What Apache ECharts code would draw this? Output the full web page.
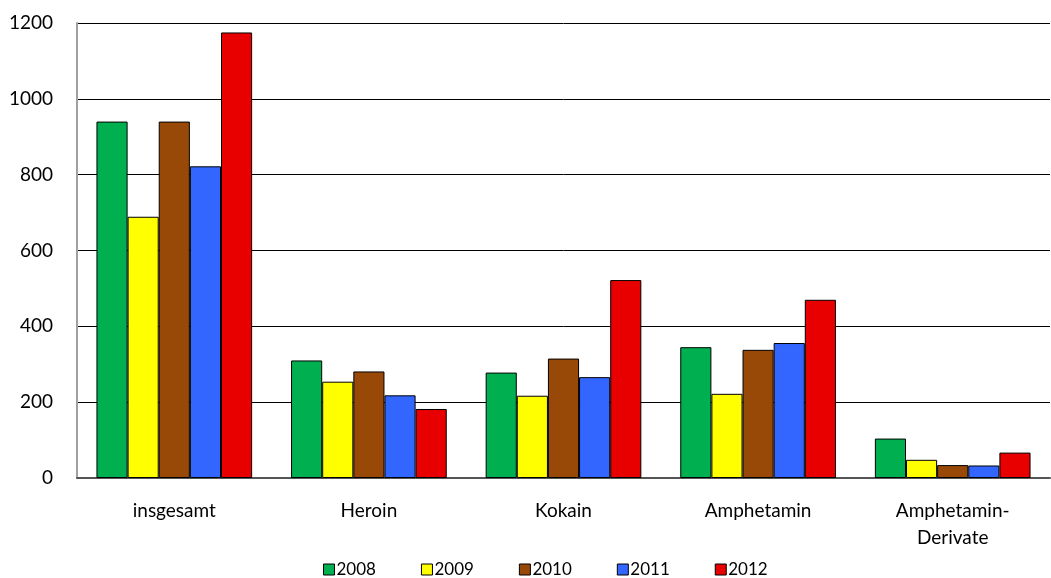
<!DOCTYPE html>
<html>
<head>
<meta charset="utf-8">
<script src="https://cdn.jsdelivr.net/npm/echarts@6/dist/echarts.min.js"></script>
<style>
  html, body { margin: 0; padding: 0; background: #fff; }
  #chart { width: 1051px; height: 578px; }
</style>
</head>
<body>
<div id="chart"></div>
<script>
// Kategorien und Werte je Jahr
const categories = ['insgesamt', 'Heroin', 'Kokain', 'Amphetamin', 'Amphetamin-\nDerivate'];
const years = ['2008', '2009', '2010', '2011', '2012'];
const values2008 = [940, 310, 278, 345, 104];
const values2009 = [689, 254, 217, 222, 48];
const values2010 = [940, 281, 315, 338, 34];
const values2011 = [822, 218, 266, 356, 33];
const values2012 = [1175, 182, 522, 470, 67];
const yTicks = [0, 200, 400, 600, 800, 1000, 1200];

const colors = ['#00B050', '#FFFF00', '#984807', '#3366FF', '#E80000'];
const allValues = [values2008, values2009, values2010, values2011, values2012];
const fontFamily = 'Lato, "Open Sans", sans-serif';

const chart = echarts.init(document.getElementById('chart'));

const series = years.map((y, i) => ({
    name: y,
    type: 'bar',
    data: allValues[i],
    barGap: '0%',
    barCategoryGap: '20%',
    itemStyle: {
        color: colors[i],
        borderColor: '#000',
        borderWidth: 1
    }
}));

chart.setOption({
    animation: false,
    grid: {
        left: 77,
        right: 1,
        top: 23,
        bottom: 100
    },
    legend: {
        top: 561,
        left: 323,
        padding: 0,
        itemWidth: 11,
        itemHeight: 11,
        itemGap: 45,
        icon: 'rect',
        itemStyle: { borderColor: '#000', borderWidth: 1 },
        textStyle: { fontFamily, fontSize: 17, color: '#000', padding: [0, 0, 0, -3] },
        data: years
    },
    xAxis: {
        type: 'category',
        data: categories,
        axisTick: { show: false },
        axisLine: { lineStyle: { color: '#555', width: 2 } },
        axisLabel: {
            fontFamily,
            fontSize: 19,
            color: '#000',
            margin: 19,
            lineHeight: 27
        }
    },
    yAxis: {
        type: 'value',
        min: yTicks[0],
        max: yTicks[yTicks.length - 1],
        interval: 200,
        axisLine: { show: true, lineStyle: { color: '#a0a0a0', width: 2 } },
        axisTick: { show: false },
        axisLabel: {
            fontFamily,
            fontSize: 19,
            color: '#000',
            margin: 24,
            formatter: v => String(v)
        },
        splitLine: { lineStyle: { color: '#000', width: 1 } }
    },
    series
});
</script>
</body>
</html>
